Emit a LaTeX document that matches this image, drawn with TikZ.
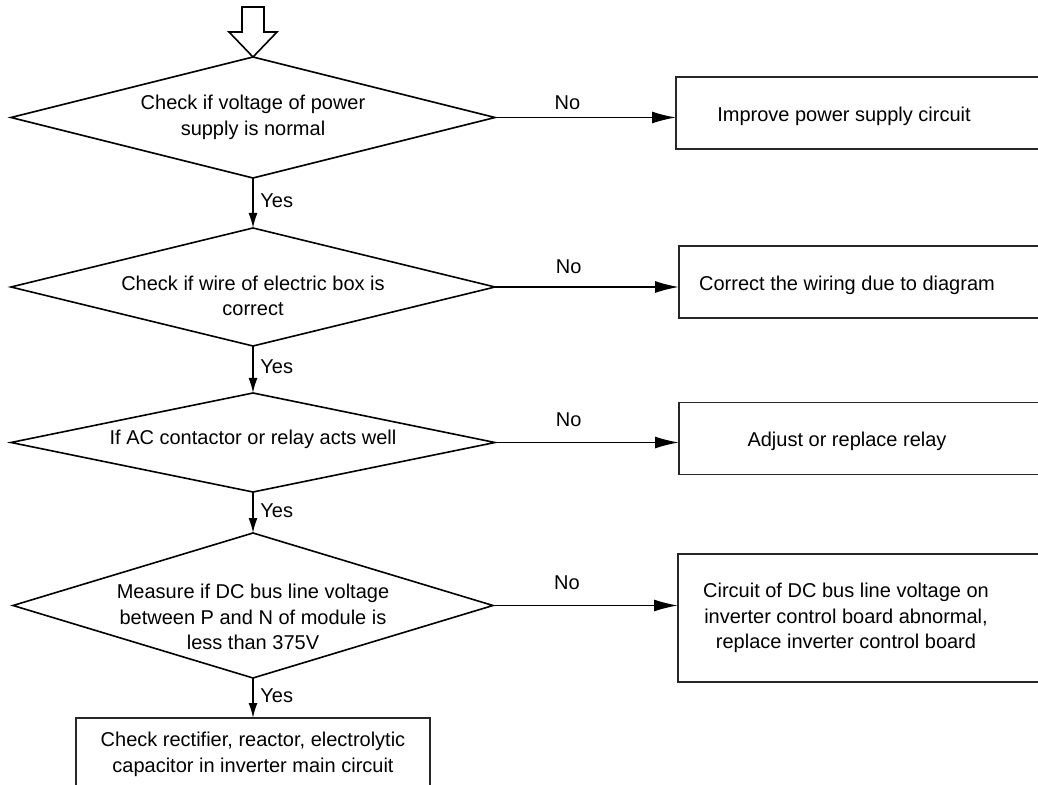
\documentclass[tikz,border=0pt]{standalone}
\usepackage{fontspec}
\setmainfont{Liberation Sans}
\usepackage{tikz}
\usetikzlibrary{shapes.geometric, arrows.meta, positioning}

\begin{document}
\begin{tikzpicture}[
        x=0.5pt, y=-0.5pt,
        font=\fontsize{10}{12.75}\selectfont,
        node distance=25pt and 91pt,
        decision/.style={diamond, draw, line width=0.8pt, inner sep=0pt, outer sep=0pt, minimum width=242pt, minimum height=#1},
        decision/.default=60pt,
        dtext/.style={align=center},
        fixbox/.style={rectangle, draw=black!85, line width=0.8pt, outer sep=0pt, minimum width=200pt, minimum height=#1},
        fixbox/.default=36pt,
        fixtext/.style={align=center, xshift=-16pt, yshift=-1.5pt},
        yesarrow/.style={-{Latex[length=7.5pt, width=4.5pt]}, line width=0.8pt},
        noarrow/.style={-{Latex[length=12pt, width=6pt]}, line width=0.8pt},
        entry/.style={draw, line width=0.8pt, fill=white}
    ]
    \clip (0,0) rectangle (1038,785);

    % main chain of checks
    \node[decision=60.5pt, label={[dtext]center:{Check if voltage of power\\supply is normal}}] (volt) at (253,117.5) {};
    \node[decision=59pt, below=25pt of volt, label={[dtext, yshift=-4.5pt]center:{Check if wire of electric box is\\correct}}] (wire) {};
    \node[decision=49.5pt, below=23.5pt of wire, label={[dtext, yshift=1.75pt]center:{If AC contactor or relay acts well}}] (relay) {};
    \node[decision=72.5pt, minimum width=240pt, below=20.5pt of relay, label={[dtext, yshift=-5.75pt]center:{Measure if DC bus line voltage\\between P and N of module is\\less than 375V}}] (dcbus) {};
    \node[fixbox=36.5pt, minimum width=177pt, below=20pt of dcbus, align=center] (mainckt) {Check rectifier, reactor, electrolytic\\capacitor in inverter main circuit};

    % remedies on the right
    \node[fixbox, right=90.5pt of volt, yshift=2.25pt, label={[fixtext]center:{Improve power supply circuit}}] (fixsupply) {};
    \node[fixbox, right=92pt of wire, yshift=2.5pt, label={[fixtext]center:{Correct the wiring due to diagram}}] (fixwire) {};
    \node[fixbox, right=92pt of relay, yshift=2pt, label={[fixtext]center:{Adjust or replace relay}}] (fixrelay) {};
    \node[fixbox=64pt, right=92.5pt of dcbus, yshift=-6.25pt, label={[fixtext, yshift=1.5pt]center:{Circuit of DC bus line voltage on\\inverter control board abnormal,\\replace inverter control board}}] (fixboard) {};

    % entry arrow
    \draw[entry] (volt.north) -- ++(-24,-25) -- ++(13,0) -- ++(0,-25) -- ++(22,0) -- ++(0,25) -- ++(13,0) -- cycle;

    \draw[yesarrow] (volt) -- node[right, pos=0.45] {Yes} (wire);
    \draw[yesarrow] (wire) -- node[right, pos=0.45] {Yes} (relay);
    \draw[yesarrow] (relay) -- node[right, pos=0.45] {Yes} (dcbus);
    \draw[yesarrow] (dcbus) -- node[right, pos=0.45] {Yes} (mainckt);

    \draw[noarrow] (volt.east) -- node[above, pos=0.4] {No} (volt.east -| fixsupply.west);
    \draw[noarrow] (wire.east) -- node[above, pos=0.4, yshift=3pt] {No} (wire.east -| fixwire.west);
    \draw[noarrow] (relay.east) -- node[above, pos=0.4, yshift=4pt] {No} (relay.east -| fixrelay.west);
    \draw[noarrow] (dcbus.east) -- node[above, pos=0.4, yshift=4pt] {No} (dcbus.east -| fixboard.west);
\end{tikzpicture}
\end{document}
